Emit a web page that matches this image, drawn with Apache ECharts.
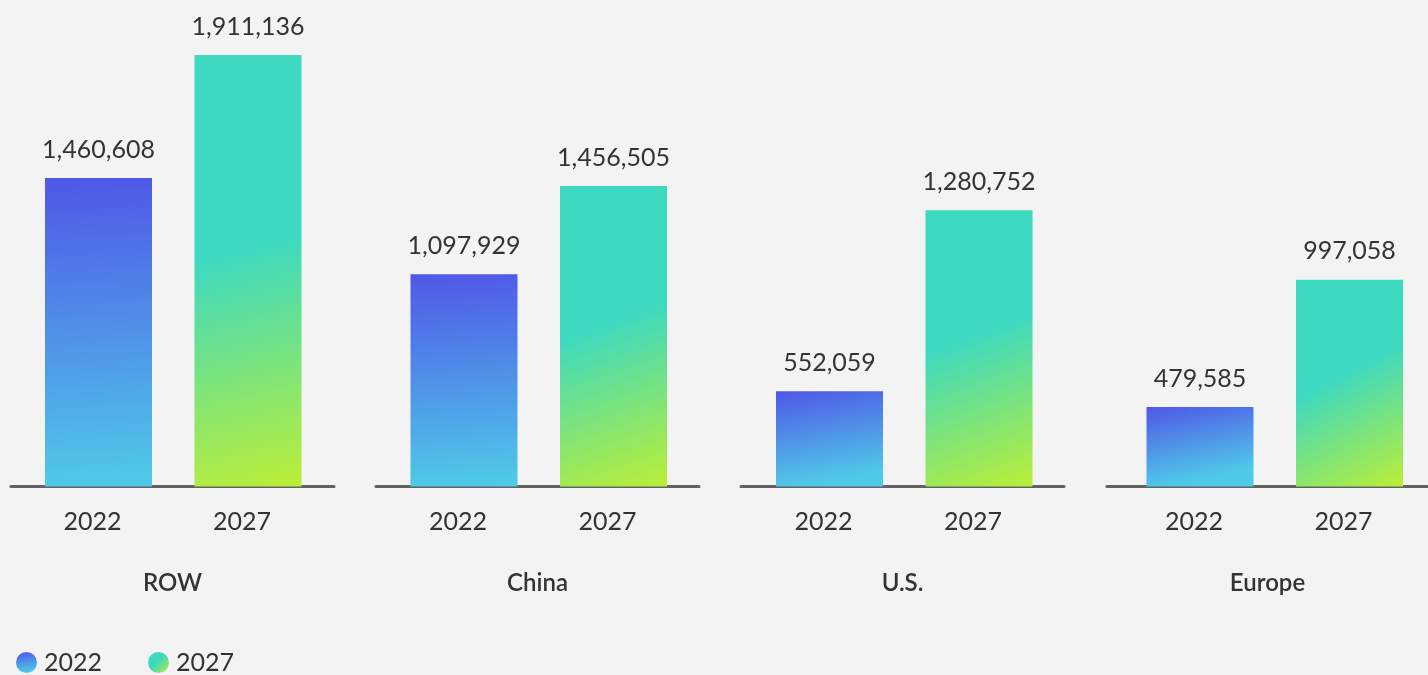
<!DOCTYPE html>
<html>
<head>
<meta charset="utf-8">
<script src="https://cdn.jsdelivr.net/npm/echarts@6/dist/echarts.min.js"></script>
<style>
  html, body { margin: 0; padding: 0; background: #f3f3f3; }
  #chart { width: 1428px; height: 675px; }
</style>
</head>
<body>
<div id="chart"></div>
<script>
const regions = ['ROW', 'China', 'U.S.', 'Europe'];
const years = ['2022', '2027'];
const values2022 = [1460608, 1097929, 552059, 479585];
const values2027 = [1911136, 1456505, 1280752, 997058];
// per-panel value-axis range (each panel has its own scale)
const axisMin = [330000, 236000, 168800, 156400];
const axisMax = [1911136, 1988600, 1905900, 1910500];

const TEXT = '#333333';
const FONT = 'Lato, "Open Sans", sans-serif';

const grad2022 = new echarts.graphic.LinearGradient(0, 0, 0.15, 1, [
  { offset: 0, color: '#5057E8' },
  { offset: 1, color: '#4FC9E8' }
]);
const grad2027 = new echarts.graphic.LinearGradient(0, 0, 1, 1, [
  { offset: 0, color: '#3DD9C1' },
  { offset: 0.45, color: '#3DD9C1' },
  { offset: 1, color: '#BCEE36' }
]);

const barLeft = [23.75, 389.25, 754.75, 1125.25];
const lineLeft = [11, 376, 741, 1107];
const TOP = 55, H = 431.5;

const grid = [], xAxis = [], yAxis = [], series = [];
regions.forEach((r, i) => {
  grid.push({ left: barLeft[i], top: TOP, width: 299, height: H });
});
regions.forEach((r, i) => {
  grid.push({ left: lineLeft[i], top: TOP, width: 323, height: H });
});

regions.forEach((r, i) => {
  xAxis.push({
    type: 'category', gridIndex: i, data: years,
    axisLine: { show: false }, axisTick: { show: false },
    axisLabel: { color: TEXT, fontSize: 25, fontFamily: FONT, margin: 23, padding: [0, 12, 0, 0] }
  });
  yAxis.push({ type: 'value', gridIndex: i, min: axisMin[i], max: axisMax[i], show: false });
});
regions.forEach((r, i) => {
  xAxis.push({
    type: 'value', gridIndex: 4 + i, min: 0, max: 1,
    axisLine: { show: true, onZero: false, lineStyle: { color: '#5f6362', width: 3 } },
    axisTick: { show: false }, axisLabel: { show: false }, splitLine: { show: false },
    name: r, nameLocation: 'middle', nameGap: 85,
    nameTextStyle: { color: TEXT, fontSize: 24, fontFamily: FONT, fontWeight: 600 }
  });
  yAxis.push({ type: 'value', gridIndex: 4 + i, min: 0, max: 1, show: false });
});

const lbl = {
  show: true, position: 'top', distance: 16,
  color: TEXT, fontSize: 25, fontFamily: FONT,
  formatter: p => Number(p.value).toLocaleString('en-US')
};

regions.forEach((r, i) => {
  series.push({
    name: '2022', type: 'bar', xAxisIndex: i, yAxisIndex: i,
    data: [values2022[i], '-'], barWidth: 107, barGap: '-100%',
    itemStyle: { color: grad2022 }, label: lbl, animation: false
  });
  series.push({
    name: '2027', type: 'bar', xAxisIndex: i, yAxisIndex: i,
    data: ['-', values2027[i]], barWidth: 107, barGap: '-100%',
    itemStyle: { color: grad2027 }, label: lbl, animation: false
  });
});

const chart = echarts.init(document.getElementById('chart'));
chart.setOption({
  backgroundColor: '#f3f3f3',
  animation: false,
  legend: {
    data: years, left: 11, top: 645, icon: 'circle',
    itemWidth: 21, itemHeight: 21, itemGap: 46,
    textStyle: { color: TEXT, fontSize: 25, fontFamily: FONT, padding: [0, 0, 0, 2] }
  },
  grid, xAxis, yAxis, series
});
</script>
</body>
</html>
